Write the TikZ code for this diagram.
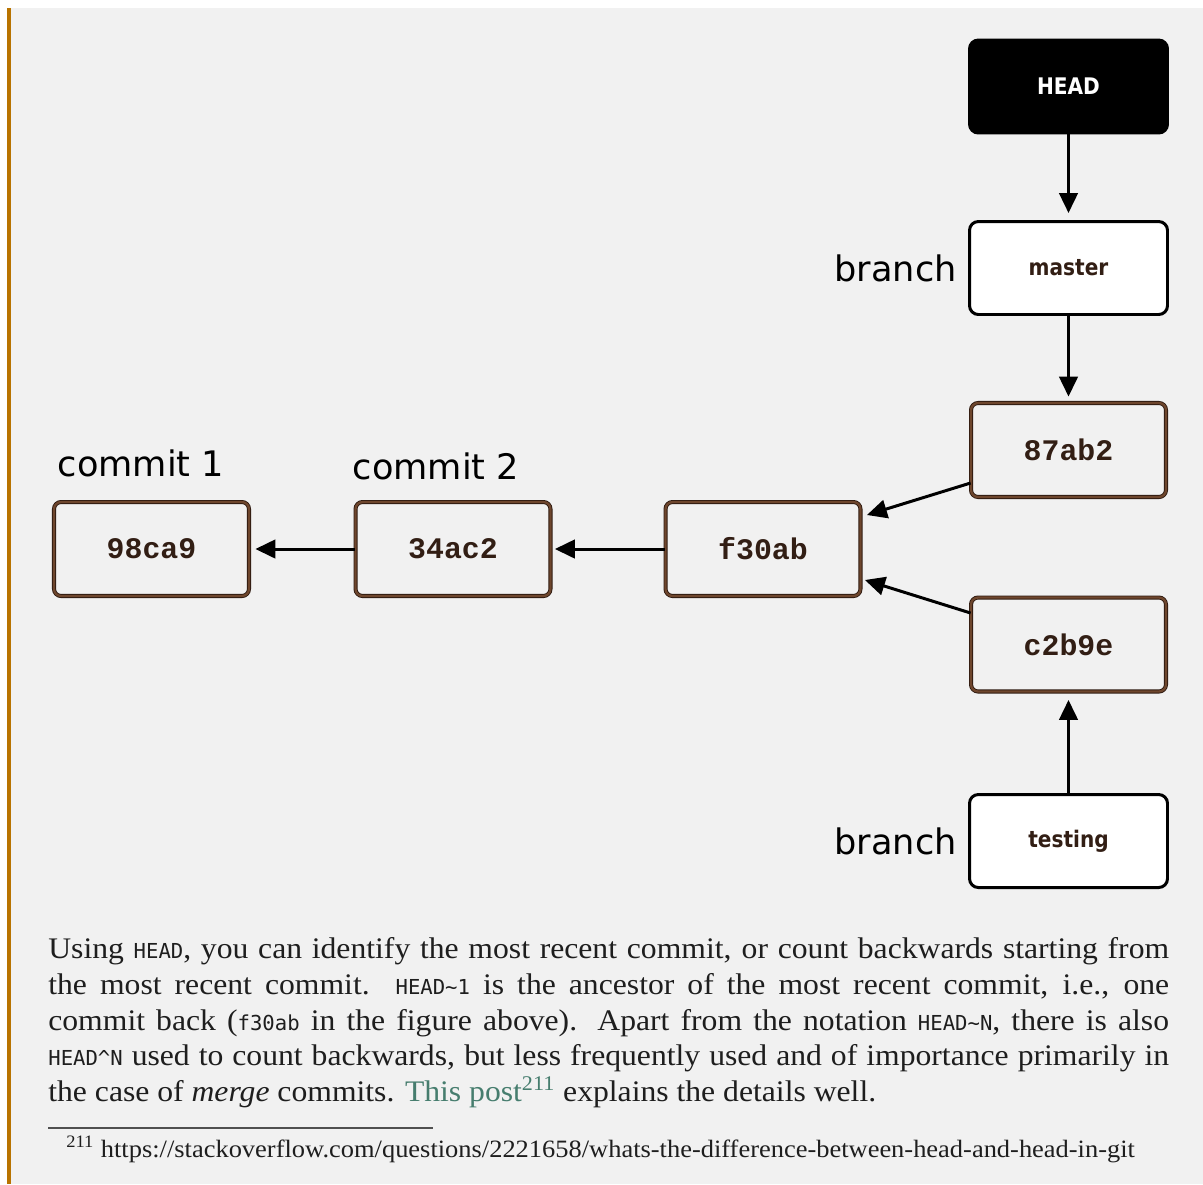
\documentclass[tikz,border=0pt]{standalone}
\usepackage{fontspec}
\setmainfont[FakeStretch=1.06]{Liberation Serif}
\setmonofont[Scale=0.69]{DejaVu Sans Mono}
\newfontfamily\labelfont{DejaVu Sans}
\newfontfamily\hashfont{Liberation Mono}
\newfontfamily\reffont[FakeStretch=0.88]{DejaVu Sans}
\usetikzlibrary{arrows.meta}
\usetikzlibrary{positioning}
\definecolor{pagegray}{RGB}{241,241,241}
\definecolor{sidebar}{RGB}{184,115,0}
\definecolor{commitbrown}{RGB}{110,70,45}
\definecolor{commitedge}{RGB}{45,25,15}
\definecolor{hashtext}{RGB}{50,30,20}
\definecolor{bodytext}{RGB}{30,30,30}
\definecolor{linkteal}{RGB}{70,125,110}
\definecolor{notegray}{RGB}{80,80,80}

\begin{document}
\begin{tikzpicture}[x=0.02cm,y=-0.02cm,
    commitbox/.style={draw=commitedge,double=commitbrown,double distance=1.3pt,line width=0.5pt,
        rounded corners=4pt,minimum width=3.9cm,minimum height=1.88cm,
        font=\hashfont\bfseries\fontsize{17}{17}\selectfont,text=hashtext},
    refbox/.style={draw=black,line width=1.7pt,fill=white,rounded corners=5pt,
        minimum width=3.96cm,minimum height=1.86cm,
        font=\reffont\bfseries\fontsize{13}{13}\selectfont,text=hashtext},
    headbox/.style={refbox,fill=black,text=white},
    ptr/.style={line width=1.7pt,-{Triangle[length=0.4cm,width=0.37cm]}},
    caption/.style={font=\labelfont\fontsize{20}{20}\selectfont}]
                % page
                \fill[white] (0,0) rectangle (1203,1184);
                \fill[pagegray] (7,8) rectangle (1203,1184);
                \fill[sidebar] (7,8) rectangle (11,1184);
                \useasboundingbox (0,0) rectangle (1203,1184);
                % refs and commits
                \node[headbox] (head) at (1068.5,86.5) {HEAD};
                \node[refbox] (master) at (1068.5,268) {master};
                \node[commitbox] (c87ab2) at (1068.5,450) {87ab2};
                \node[commitbox] (cf30ab) at (763,549) {f30ab};
                \node[commitbox] (c34ac2) at (453,549) {34ac2};
                \node[commitbox] (c98ca9) at (151.5,549) {98ca9};
                \node[commitbox] (cc2b9e) at (1068.5,644.5) {c2b9e};
                \node[refbox] (testing) at (1068.5,841) {testing};
                \node[caption,left=0.1cm of master] (br1) {branch};
                \node[caption,left=0.1cm of testing] (br2) {branch};
                \node[caption] (lab1) at (141,463) {commit 1};
                \node[caption] (lab2) at (436,466) {commit 2};
                % pointers
                \draw[ptr,shorten >=0.14cm] (head) -- (master);
                \draw[ptr,shorten >=0.12cm] (master) -- (c87ab2);
                \draw[ptr,shorten >=0.16cm] (testing) -- (cc2b9e);
                \draw[ptr,shorten >=0.08cm] (cf30ab) -- (c34ac2);
                \draw[ptr,shorten >=0.12cm] (c34ac2) -- (c98ca9);
                \draw[ptr] ([yshift=-0.66cm]c87ab2.west) -- ([yshift=0.68cm,xshift=0.12cm]cf30ab.east);
                \draw[ptr] ([yshift=0.63cm]cc2b9e.west) -- ([yshift=-0.62cm,xshift=0.08cm]cf30ab.east);
                % text below
                \node[anchor=north west,inner sep=0pt,text width=22.42cm,align=justify,text=bodytext,
                    font=\fontsize{17}{20.4}\selectfont] (para) at (48,937)
                    {Using \texttt{HEAD}, you can identify the most recent commit, or count backwards starting from\linebreak
                    the most recent commit. \texttt{HEAD\textasciitilde 1} is the ancestor of the most recent commit, i.e., one\linebreak
                    commit back (\texttt{f30ab} in the figure above). Apart from the notation \texttt{HEAD\textasciitilde N}, there is also\linebreak
                    \texttt{HEAD\textasciicircum N} used to count backwards, but less frequently used and of importance primarily in\linebreak
                    the case of \emph{merge} commits. {\color{linkteal}This post}\textsuperscript{\color{linkteal}211} explains the details well.};
                \draw[notegray,line width=0.6pt] (48,1128) -- (433,1128);
                \node[anchor=base west,inner sep=0pt,text=bodytext,font=\fontsize{14.2}{16}\selectfont] (note) at (66,1157)
                    {\textsuperscript{211} https://stackoverflow.com/questions/2221658/whats-the-difference-between-head-and-head-in-git};
            \end{tikzpicture}
\end{document}
